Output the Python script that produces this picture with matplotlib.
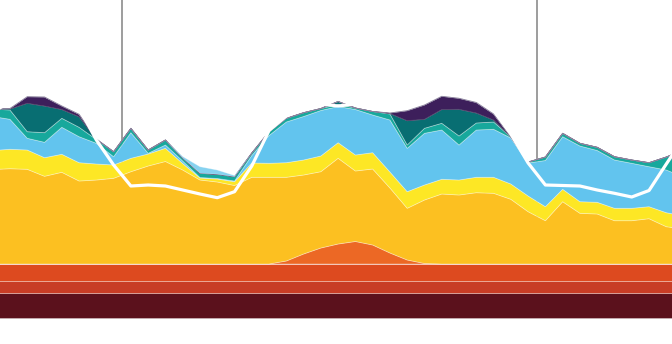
import numpy as np
import matplotlib
matplotlib.use("Agg")
import matplotlib.pyplot as plt

# hourly samples, layer heights stacked from the bottom up
hours = np.arange(41)

nuclear = [25.0] * 41
coal = [12.0] * 41
gas = [17.0] * 41
hydro = [0, 0, 0, 0, 0, 0, 0, 0, 0, 0, 0, 0, 0, 0, 0, 0, 0, 3, 10, 16,
         20, 22.5, 19, 11, 4, 0.5, 0, 0, 0, 0, 0, 0, 0, 0, 0, 0, 0, 0, 0, 0, 0]
gold = [94.5, 95.3, 94.7, 87.7, 91.7, 83, 84, 85.7, 92.3, 98, 102.5, 94, 84, 82,
        78.5, 86.7, 86.7, 83.7, 79, 76.3, 85.7, 70.5, 76, 65, 51.7, 63.5, 70,
        69, 71.3, 70.7, 64.7, 52.3, 43.3, 62.3, 50.7, 50, 43.3, 43.3, 45.3, 37.3, 35]
yellow = [19, 19.4, 19.3, 18.6, 18, 18.3, 16, 13.3, 13.4, 12, 13.2, 6.5, 2, 3,
          3.8, 14.3, 14, 14.6, 15, 15.7, 15.6, 16, 16.3, 16, 16.6, 15, 14.7,
          15, 15.4, 16, 15.3, 15.7, 14, 12.4, 11.6, 11.7, 12.4, 12.4, 12, 14, 13]
blue = [34, 30, 11.7, 15.4, 27, 26, 20.7, 8.3, 25.6, 0.7, 3.3, 2.5, 0.5, 0.5,
        0.7, 7.5, 27.8, 40.7, 43.5, 45.5, 36.2, 45.5, 37.7, 52, 43.4, 51.7, 49.3,
        35, 47.3, 48, 46, 33, 46.2, 52.6, 55.7, 51.8, 48.3, 45, 40, 42.7, 39]
teal = [7.5, 9.3, 6.6, 9.6, 9, 9.4, 3.8, 5, 4.4, 3.3, 5, 3, 4.2, 4.2,
        4.3, 2.5, 3.8, 3.7, 3.8, 2, 2, 1.5, 3.5, 6, 3.3, 5, 6.7,
        9, 7, 7.3, 1, 1, 3.5, 3.4, 2.7, 3.2, 3.3, 3.3, 4, 13, 27]
dark_teal = [0, 1, 28.4, 26.7, 8.8, 10.6, 0.2, 0, 0, 0, 0, 0, 0, 0,
             0, 0, 0, 0, 0, 0, 3, 0, 0, 0.5, 24.3, 9, 13.8,
             26.7, 10, 2, 0, 0, 0, 0, 0, 0, 0, 0, 0, 0, 0]
purple = [0, 0.5, 6.6, 9, 3.5, 2.4, 0.3, 0, 0, 0, 0, 0, 0, 0,
          0, 0, 0, 0, 0, 0, 0, 0, 0, 0.5, 10, 14.3, 13.2,
          11, 10.5, 6, 0, 0, 0, 0, 0, 0, 0, 0, 0, 0, 0]
light = [0, 0, 0, 0, 0, 0, 0, 0, 0, 0, 0, 1.5, 6.6, 4.3,
         1.2, 0, 0, 0, 0, 0, 0, 0, 0, 0, 0, 0, 0,
         0, 0, 0, 0, 0, 0, 0, 0, 0, 0, 0, 0, 0, 0]
demand = [206, 216, 228, 227, 218, 210, 178, 153, 132, 133, 132, 128, 124, 120.3,
          126.3, 152, 187.5, 202, 209, 214, 212, 214, 210, 208, 213, 218, 226,
          225, 220, 208, 184, 155, 133, 132.5, 132, 128, 124.7, 121, 127.5, 154, 180]
day_marks = [7.5, 31.5]

layers = [nuclear, coal, gas, hydro, gold, yellow, blue, teal, dark_teal, purple, light]
colors = ["#5b111c", "#c83d25", "#dd4a1f", "#ec6825", "#fcc021", "#fde725",
          "#62c4ee", "#17a89c", "#086e72", "#3d1f5b", "#86d2f0"]

fig = plt.figure(figsize=(6.72, 3.44), dpi=100)
ax = fig.add_axes([0, 0, 1, 1])

# day separators sit behind the stack, so they stop where it starts
ax.vlines(day_marks, 60, 318, color="#8c8c8c", lw=1.2, zorder=0)

base = np.zeros(len(hours))
for vals, col in zip(layers, colors):
    top = base + np.array(vals, dtype=float)
    edge = "#4d4068" if col == "#3d1f5b" else (1, 1, 1, 0.35)
    ax.fill_between(hours, base, top, facecolor=col, edgecolor=edge, lw=0.6, zorder=1)
    base = top

ax.plot(hours, demand, color="white", lw=2.3, zorder=3)

ax.set_xlim(0.421, 39.33)
ax.set_ylim(-26, 318)
ax.axis("off")

fig.savefig("out.png", dpi=100)
